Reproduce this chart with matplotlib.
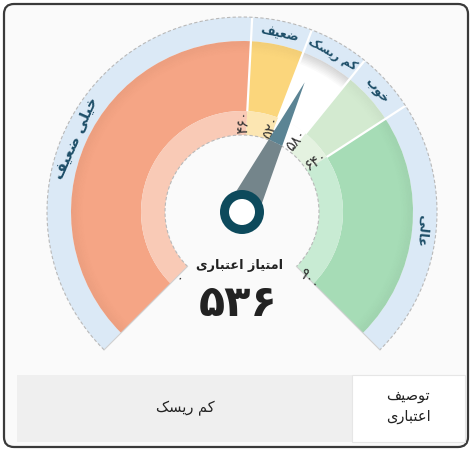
import matplotlib
matplotlib.use("Agg")
import matplotlib.pyplot as plt
import numpy as np
from matplotlib.patches import Wedge, Circle, FancyBboxPatch, Rectangle, Polygon
from matplotlib import font_manager
from matplotlib.ft2font import FT2Font

# ---------------- data ----------------
score = 536
score_label = "۵۳۶"
title_label = "امتیاز اعتباری"
band_edges = [0, 460, 520, 580, 640, 900]
band_names = ["خیلی ضعیف", "ضعیف", "کم ریسک", "خوب", "عالی"]
edge_labels = ["۰", "۴۶۰", "۵۲۰", "۵۸۰", "۶۴۰", "۹۰۰"]
band_dark = ["#f5a585", "#fbd67c", "#ffffff", "#d3ead0", "#a6dcb6"]
band_light = ["#f9cab6", "#fce6b2", "#ffffff", "#e4f2e0", "#c8ebd3"]
active_band = 2
table_key = "توصیف\nاعتباری"
table_value = "کم ریسک"

# ------------- minimal Arabic/Persian shaping for display -------------
FORMS = {
    'ا': ('\uFE8D', '\uFE8E', None, None),
    'ب': ('\uFE8F', '\uFE90', '\uFE91', '\uFE92'),
    'ت': ('\uFE95', '\uFE96', '\uFE97', '\uFE98'),
    'خ': ('\uFEA5', '\uFEA6', '\uFEA7', '\uFEA8'),
    'ر': ('\uFEAD', '\uFEAE', None, None),
    'ز': ('\uFEAF', '\uFEB0', None, None),
    'س': ('\uFEB1', '\uFEB2', '\uFEB3', '\uFEB4'),
    'ص': ('\uFEB9', '\uFEBA', '\uFEBB', '\uFEBC'),
    'ض': ('\uFEBD', '\uFEBE', '\uFEBF', '\uFEC0'),
    'ع': ('\uFEC9', '\uFECA', '\uFECB', '\uFECC'),
    'ف': ('\uFED1', '\uFED2', '\uFED3', '\uFED4'),
    'ل': ('\uFEDD', '\uFEDE', '\uFEDF', '\uFEE0'),
    'م': ('\uFEE1', '\uFEE2', '\uFEE3', '\uFEE4'),
    'و': ('\uFEED', '\uFEEE', None, None),
    'ک': ('\uFB8E', '\uFB8F', '\uFB90', '\uFB91'),
    'ی': ('\uFBFC', '\uFBFD', '\uFBFE', '\uFBFF'),
}
FALLBACK = {
    'ک': ('\uFED9', '\uFEDA', '\uFEDB', '\uFEDC'),
    'ی': ('\uFEEF', '\uFEF0', '\uFEF3', '\uFEF4'),
}
try:
    cmaps = None
    for w in ("normal", "bold"):
        p = font_manager.findfont(font_manager.FontProperties(family="DejaVu Sans", weight=w))
        cm = set(FT2Font(p).get_charmap().keys())
        cmaps = cm if cmaps is None else (cmaps & cm)
except Exception:
    cmaps = None
if cmaps is not None:
    for k, fb in FALLBACK.items():
        if not all(ord(g) in cmaps for g in FORMS[k]):
            FORMS[k] = fb


def shape_line(s):
    chars = list(s)
    if not any(c in FORMS for c in chars):
        return s
    out = []
    for i, c in enumerate(chars):
        if c not in FORMS:
            out.append(c)
            continue
        prev = chars[i - 1] if i > 0 else None
        nxt = chars[i + 1] if i + 1 < len(chars) else None
        jp = prev in FORMS and FORMS[prev][2] is not None
        jn = FORMS[c][2] is not None and nxt in FORMS
        iso, fin, ini, med = FORMS[c]
        out.append(med if (jp and jn) else fin if jp else ini if jn else iso)
    return ''.join(reversed(out))


def shape(s):
    return "\n".join(shape_line(l) for l in s.split("\n"))


plt.rcParams['font.family'] = ['DejaVu Sans']

# ---------------- figure ----------------
W, H = 472, 451
fig = plt.figure(figsize=(W / 100, H / 100), dpi=100)
ax = fig.add_axes([0, 0, 1, 1])
ax.set_xlim(0, W)
ax.set_ylim(0, H)
ax.axis("off")


def Y(y):
    return H - y


# card
ax.add_patch(FancyBboxPatch((4, Y(447)), 464, 443, boxstyle="round,pad=0,rounding_size=10",
                            facecolor="#fafafa", edgecolor="#3a3a3a", lw=1.6, zorder=0))

cx, cy = 242, Y(212)
R_out, R_band, R_mid, R_in = 195, 171, 101, 77
SPAN = 270.0
VMIN, VMAX = band_edges[0], band_edges[-1]


def theta(v):  # clockwise from top, degrees
    return (v - (VMIN + VMAX) / 2) * SPAN / (VMAX - VMIN)


def mpl_ang(v):
    return 90 - theta(v)


def pol(r, v):
    a = np.deg2rad(mpl_ang(v))
    return cx + r * np.cos(a), cy + r * np.sin(a)


# outer blue band
ax.add_patch(Wedge((cx, cy), R_out, mpl_ang(VMAX), mpl_ang(VMIN), width=R_out - R_band,
                   facecolor="#dbe9f6", edgecolor="none", zorder=1))
# segments
for i in range(len(band_names)):
    v1, v2 = band_edges[i], band_edges[i + 1]
    ax.add_patch(Wedge((cx, cy), R_band, mpl_ang(v2), mpl_ang(v1), width=R_band - R_mid,
                       facecolor=band_dark[i], edgecolor="none", zorder=2))
    ax.add_patch(Wedge((cx, cy), R_mid, mpl_ang(v2), mpl_ang(v1), width=R_mid - R_in,
                       facecolor=band_light[i], edgecolor="none", zorder=2))
    # soft shading near outer edge
    strength = 0.16 if i == active_band else 0.035
    n = 8
    for k in range(n):
        r0 = R_band - 12 + k * 12 / n
        ax.add_patch(Wedge((cx, cy), r0 + 12 / n, mpl_ang(v2), mpl_ang(v1), width=12 / n,
                           facecolor="#000000", alpha=strength * (k + 1) / n, edgecolor="none", zorder=2.5))

# separators
for v in band_edges[1:-1]:
    x0, y0 = pol(R_mid, v)
    x1, y1 = pol(R_out, v)
    ax.plot([x0, x1], [y0, y1], color="white", lw=1.6, zorder=3, solid_capstyle="butt")

# outlines
ts = np.linspace(VMIN, VMAX, 300)
xo, yo = zip(*[pol(R_out, t) for t in ts])
ax.plot(xo, yo, color="#b9b9b9", lw=0.8, ls=(0, (3, 2)), zorder=3)
xi, yi = zip(*[pol(R_in, t) for t in ts])
ax.plot(xi, yi, color="#b9b9b9", lw=0.8, ls=(0, (3, 2)), zorder=3)
for v in (VMIN, VMAX):
    x0, y0 = pol(R_in, v)
    x1, y1 = pol(R_out, v)
    ax.plot([x0, x1], [y0, y1], color="#d0d0d0", lw=0.8, zorder=3)

# band names
name_sizes = [10.5, 9.0, 8.3, 9.0, 9.5]
for i, name in enumerate(band_names):
    vm = (band_edges[i] + band_edges[i + 1]) / 2
    x, y = pol(182, vm)
    ax.text(x, y, shape(name), rotation=-theta(vm), ha="center", va="center",
            rotation_mode="anchor", fontsize=name_sizes[i], fontweight="bold", color="#1d4e68", zorder=5)

# edge labels
for v, lab in zip(band_edges, edge_labels):
    inner = v not in (VMIN, VMAX)
    off = -2.0 if inner else 0
    a = np.deg2rad(mpl_ang(v) - off)
    r = 90 if inner else 95
    x, y = cx + r * np.cos(a), cy + r * np.sin(a)
    ax.text(x, y, lab, rotation=90 - theta(v), ha="center", va="center",
            rotation_mode="anchor", fontsize=10.5, color="#333333", zorder=5)

# needle
th = np.deg2rad(mpl_ang(score))
u = np.array([np.cos(th), np.sin(th)])
nrm = np.array([-u[1], u[0]])
L, hw = 144, 16
c = np.array([cx, cy])


def npt(r, side):
    return c + u * r + nrm * side * hw * (1 - r / L)


ax.add_patch(Polygon([npt(0, 1), npt(R_in, 1), npt(R_in, -1), npt(0, -1)],
                     closed=True, facecolor="#74858b", edgecolor="none", zorder=6))
ax.add_patch(Polygon([npt(R_in, 1), c + u * L, npt(R_in, -1)],
                     closed=True, facecolor="#5b8494", edgecolor="none", zorder=6))
ax.add_patch(Circle((cx, cy), 22, facecolor="#0d4a5c", edgecolor="none", zorder=7))
ax.add_patch(Circle((cx, cy), 13, facecolor="white", edgecolor="none", zorder=8))

# center texts
ax.text(240, Y(265), shape(title_label), ha="center", va="center", fontsize=9.2,
        fontweight="bold", color="#222222", zorder=5)
ax.text(238, Y(304), score_label, ha="center", va="center", fontsize=31,
        fontweight="bold", color="#222222", zorder=5)

# table
ax.add_patch(Rectangle((17, Y(442)), 335, 67, facecolor="#efefef", edgecolor="none", zorder=1))
ax.add_patch(Rectangle((352, Y(442)), 113, 67, facecolor="white", edgecolor="#e6e6e6", lw=0.8, zorder=1))
ax.text(185, Y(408), shape(table_value), ha="center", va="center", fontsize=10.5,
        color="#222222", zorder=5)
ax.text(408, Y(406), shape(table_key), ha="center", va="center", fontsize=10.5,
        color="#222222", linespacing=1.4, zorder=5)

fig.savefig("out.png", dpi=100)
